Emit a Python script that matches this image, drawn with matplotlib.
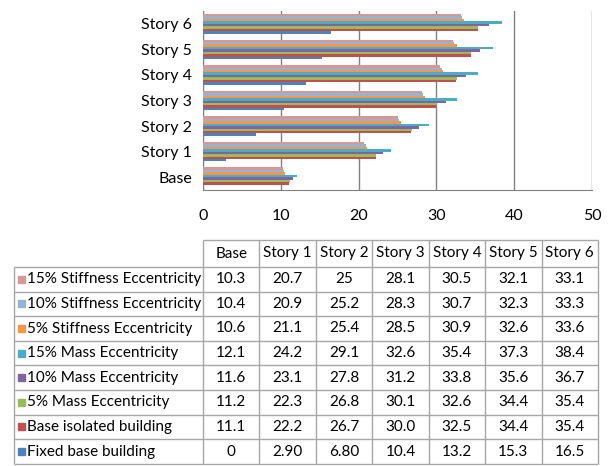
import numpy as np
import matplotlib.pyplot as plt

plt.rcParams['font.family'] = ['Lato', 'DejaVu Sans']

categories = ['Base', 'Story 1', 'Story 2', 'Story 3', 'Story 4', 'Story 5', 'Story 6']

# series in chart order (bottom bar of each group first); table shows them reversed
series_names = ['Fixed base building', 'Base isolated building',
                '5% Mass Eccentricity', '10% Mass Eccentricity',
                '15% Mass Eccentricity', '5% Stiffness Eccentricity',
                '10% Stiffness Eccentricity', '15% Stiffness Eccentricity']
fixed_base = ['0', '2.90', '6.80', '10.4', '13.2', '15.3', '16.5']
base_isolated = ['11.1', '22.2', '26.7', '30.0', '32.5', '34.4', '35.4']
mass_5 = ['11.2', '22.3', '26.8', '30.1', '32.6', '34.4', '35.4']
mass_10 = ['11.6', '23.1', '27.8', '31.2', '33.8', '35.6', '36.7']
mass_15 = ['12.1', '24.2', '29.1', '32.6', '35.4', '37.3', '38.4']
stiff_5 = ['10.6', '21.1', '25.4', '28.5', '30.9', '32.6', '33.6']
stiff_10 = ['10.4', '20.9', '25.2', '28.3', '30.7', '32.3', '33.3']
stiff_15 = ['10.3', '20.7', '25', '28.1', '30.5', '32.1', '33.1']
series_text = [fixed_base, base_isolated, mass_5, mass_10, mass_15,
               stiff_5, stiff_10, stiff_15]
colors = ['#4F81BD', '#C0504D', '#9BBB59', '#8064A2', '#4BACC6',
          '#F79646', '#95B3D7', '#D99694']

W, H = 608, 466
fig = plt.figure(figsize=(W / 100, H / 100), dpi=100)

# ---- bar chart ----
ax = fig.add_axes([203 / W, 1 - 190 / H, (592 - 203) / W, (190 - 11) / H])
y = np.arange(len(categories))
n = len(series_names)
group = 0.76
bh = group / n
for i in range(n):
    vals = [float(v) for v in series_text[i]]
    ax.barh(y - group / 2 + (i + 0.5) * bh, vals, height=bh,
            color=colors[i], edgecolor='none', zorder=3)
ax.set_xlim(0, 50)
ax.set_ylim(-0.5, len(categories) - 0.5)
ax.set_xticks([0, 10, 20, 30, 40, 50])
ax.set_yticks(y)
ax.set_yticklabels(categories, fontsize=11.5)
ax.tick_params(axis='x', labelsize=11.5, length=0, pad=14)
ax.tick_params(axis='y', length=0, pad=8)
ax.xaxis.grid(True, color='#808080', linewidth=1, zorder=0)
for s in ['top', 'right']:
    ax.spines[s].set_visible(False)
for s in ['left', 'bottom']:
    ax.spines[s].set_color('#808080')

# ---- data table ----
tab = fig.add_axes([0, 0, 1, 1])
tab.set_xlim(0, W)
tab.set_ylim(H, 0)
tab.axis('off')

line_c = '#a6a6a6'
x_left = 14
col_w = (598 - 203) / 7
col_x = [203 + k * col_w for k in range(8)]
head_top = 240
head_bot = 267
row_h = 24.6
row_y = [head_bot + r * row_h for r in range(n + 1)]

tab.hlines(head_top, col_x[0], col_x[-1], color=line_c, lw=1)
tab.hlines(row_y, x_left, col_x[-1], color=line_c, lw=1)
tab.vlines(col_x, head_top, row_y[-1], color=line_c, lw=1)
tab.vlines(x_left, head_bot, row_y[-1], color=line_c, lw=1)

for k, c in enumerate(categories):
    tab.text(col_x[k] + col_w / 2, (head_top + head_bot) / 2, c,
             ha='center', va='center', fontsize=11)

for r in range(n):
    i = n - 1 - r
    yc = row_y[r] + row_h / 2
    tab.add_patch(plt.Rectangle((18, yc - 3.5), 7, 7, color=colors[i]))
    tab.text(27, yc, series_names[i], ha='left', va='center', fontsize=11)
    for k in range(len(categories)):
        tab.text(col_x[k] + col_w / 2, yc, series_text[i][k],
                 ha='center', va='center', fontsize=11)

fig.savefig('out.png', dpi=100)
